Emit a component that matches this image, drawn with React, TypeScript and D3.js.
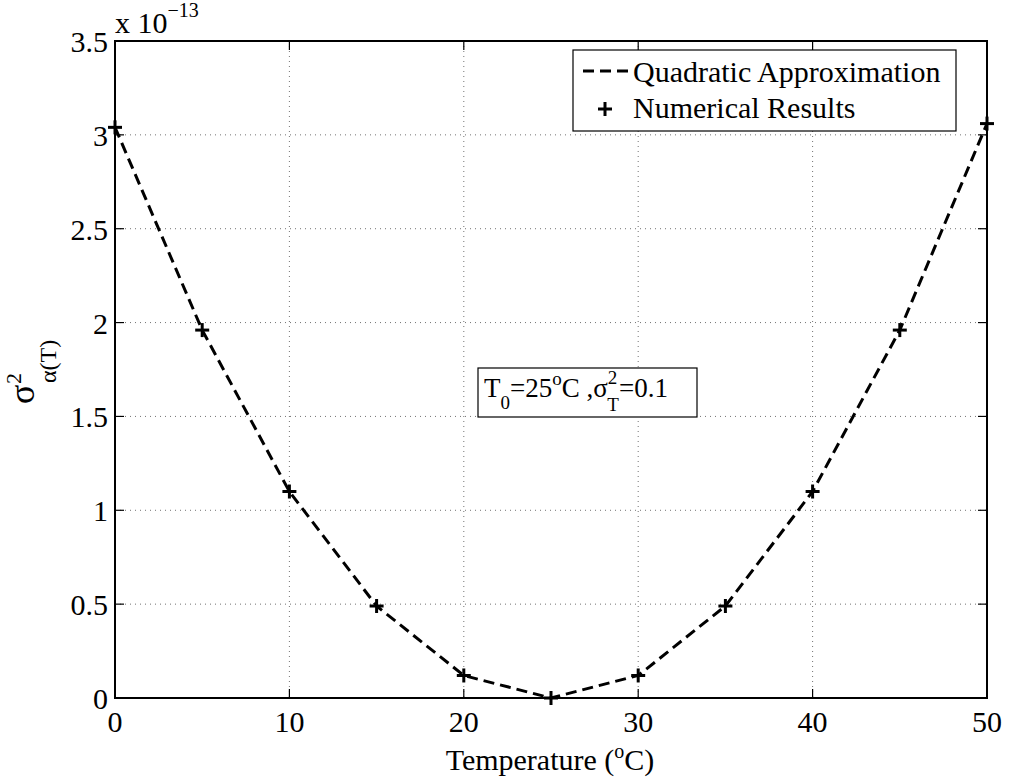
import React from "react";
import * as d3 from "d3";

const temps = [0, 5, 10, 15, 20, 25, 30, 35, 40, 45, 50];
const variance = [3.04, 1.96, 1.1, 0.49, 0.12, 0, 0.12, 0.49, 1.1, 1.96, 3.06];
const xTicks = [0, 10, 20, 30, 40, 50];
const yTicks = [0, 0.5, 1, 1.5, 2, 2.5, 3, 3.5];

const W = 1009, H = 782;
const L = 115, R = 987, T = 41, B = 698;
const FONT = "'Liberation Serif', 'Times New Roman', serif";
const FS = 30;

export default function App() {
  const x = d3.scaleLinear().domain([0, 50]).range([L, R]);
  const y = d3.scaleLinear().domain([0, 3.5]).range([B, T]);
  const line = d3.line<number>().x((_, i) => x(temps[i])).y((d) => y(d));
  const tl = 9;
  const ms = 7;
  return (
    <svg width={W} height={H} style={{ position: "absolute", left: 0, top: 0, background: "#fff" }} fontFamily={FONT}>
      <rect x={0} y={0} width={W} height={H} fill="#fff" />
      {/* grid */}
      {xTicks.slice(1, -1).map((t) => (
        <line key={"gx" + t} x1={x(t)} x2={x(t)} y1={T} y2={B} stroke="#000" strokeWidth={1} strokeDasharray="1,4" opacity={0.55} />
      ))}
      {yTicks.slice(1, -1).map((t) => (
        <line key={"gy" + t} x1={L} x2={R} y1={y(t)} y2={y(t)} stroke="#000" strokeWidth={1} strokeDasharray="1,4" opacity={0.55} />
      ))}
      {/* ticks */}
      {xTicks.map((t) => (
        <g key={"tx" + t}>
          <line x1={x(t)} x2={x(t)} y1={B} y2={B - tl} stroke="#000" strokeWidth={1.2} />
          <line x1={x(t)} x2={x(t)} y1={T} y2={T + tl} stroke="#000" strokeWidth={1.2} />
          <text x={x(t)} y={B + 34} textAnchor="middle" fontSize={FS}>{t}</text>
        </g>
      ))}
      {yTicks.map((t) => (
        <g key={"ty" + t}>
          <line x1={L} x2={L + tl} y1={y(t)} y2={y(t)} stroke="#000" strokeWidth={1.2} />
          <line x1={R} x2={R - tl} y1={y(t)} y2={y(t)} stroke="#000" strokeWidth={1.2} />
          <text x={L - 7} y={y(t) + 11} textAnchor="end" fontSize={FS}>{t}</text>
        </g>
      ))}
      <rect x={L} y={T} width={R - L} height={B - T} fill="none" stroke="#000" strokeWidth={2} />
      {/* exponent */}
      <text x={L} y={33} fontSize={FS}>
        x 10
        <tspan dy={-16} fontSize={20}>−13</tspan>
      </text>
      {/* data line */}
      <path d={line(variance) || ""} fill="none" stroke="#000" strokeWidth={3} strokeDasharray="11,6" />
      {variance.map((v, i) => (
        <g key={"m" + i} stroke="#000" strokeWidth={3}>
          <line x1={x(temps[i]) - ms} x2={x(temps[i]) + ms} y1={y(v)} y2={y(v)} />
          <line x1={x(temps[i])} x2={x(temps[i])} y1={y(v) - ms} y2={y(v) + ms} />
        </g>
      ))}
      {/* legend */}
      <rect x={573} y={50} width={383} height={81} fill="#fff" stroke="#000" strokeWidth={1.2} />
      <line x1={583} x2={628} y1={71} y2={71} stroke="#000" strokeWidth={3} strokeDasharray="11,6" />
      <text x={633} y={82} fontSize={FS}>Quadratic Approximation</text>
      <g stroke="#000" strokeWidth={3}>
        <line x1={605 - ms} x2={605 + ms} y1={109} y2={109} />
        <line x1={605} x2={605} y1={109 - ms} y2={109 + ms} />
      </g>
      <text x={633} y={118} fontSize={FS}>Numerical Results</text>
      {/* annotation */}
      <rect x={478} y={368} width={219} height={49} fill="#fff" stroke="#000" strokeWidth={1.2} />
      <text x={484} y={397} fontSize={27}>
        T<tspan dy={12} fontSize={19}>0</tspan>
        <tspan dy={-12}>=25</tspan>
        <tspan dy={-12} fontSize={19}>o</tspan>
        <tspan dy={12}>C ,σ</tspan>
        <tspan dy={-13} fontSize={19}>2</tspan>
        <tspan dx={-10} dy={27} fontSize={19}>T</tspan>
        <tspan dy={-14}>=0.1</tspan>
      </text>
      {/* axis labels */}
      <text x={550} y={770} textAnchor="middle" fontSize={FS}>
        Temperature (<tspan dy={-12} fontSize={20}>o</tspan>
        <tspan dy={12}>C)</tspan>
      </text>
      <g transform="translate(34,0) rotate(-90)">
        <text x={-404} y={0} fontSize={36}>σ</text>
        <text x={-384} y={-13} fontSize={22}>2</text>
        <text x={-383} y={22} fontSize={24}>α(T)</text>
      </g>
    </svg>
  );
}
